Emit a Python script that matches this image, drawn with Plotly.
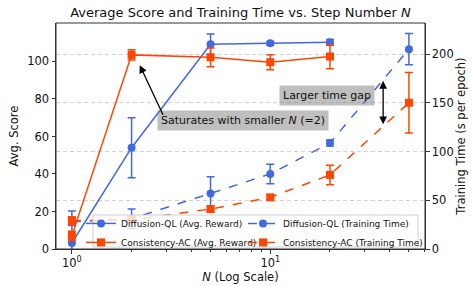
import math
import plotly.graph_objects as go

# ---- data ----
N_reward = [1, 2, 5, 10, 20]
dq_reward = [3.2, 54, 109.2, 109.7, 110.2]
dq_reward_err = [17, 16, 5.5, 1, 1.5]
cac_reward = [7, 103.5, 102.2, 99.6, 102.6]
cac_reward_err = [2.5, 2.7, 5, 4, 6.5]

N_time = [1, 2, 5, 10, 20, 50]
dq_time = [28, 31, 57, 77, 108.7, 205]
dq_time_err = [4, 10, 17, 10, 3, 16]
cac_time = [29, 30, 41, 53, 76, 150]
cac_time_err = [4, 3, 3, 2.5, 10, 31]

left_ticks = [0, 20, 40, 60, 80, 100]
right_ticks = [0, 50, 100, 150, 200]
x_major = [1, 10]
x_major_text = ["10<sup>0</sup>", "10<sup>1</sup>"]
x_minor = [2, 3, 4, 5, 6, 7, 8, 9, 20, 30, 40, 50, 60]

BLUE = "#4169E1"
RED = "#FF4500"
FONT = "DejaVu Sans"

fig = go.Figure()

def err(arr, color):
    return dict(type="data", array=arr, visible=True, color=color, thickness=1.5, width=4)

fig.add_trace(go.Scatter(x=N_reward, y=dq_reward, mode="lines+markers", name="Diffusion-QL (Avg. Reward)",
                         line=dict(color=BLUE, width=1.5), marker=dict(symbol="circle", size=8, color=BLUE),
                         error_y=err(dq_reward_err, BLUE), yaxis="y", legend="legend"))
fig.add_trace(go.Scatter(x=N_reward, y=cac_reward, mode="lines+markers", name="Consistency-AC (Avg. Reward)",
                         line=dict(color=RED, width=1.5), marker=dict(symbol="square", size=8, color=RED),
                         error_y=err(cac_reward_err, RED), yaxis="y", legend="legend"))
fig.add_trace(go.Scatter(x=N_time, y=dq_time, mode="lines+markers", name="Diffusion-QL (Training Time)",
                         line=dict(color=BLUE, width=1.5, dash="dash"), marker=dict(symbol="circle", size=8, color=BLUE),
                         error_y=err(dq_time_err, BLUE), yaxis="y2", legend="legend2"))
fig.add_trace(go.Scatter(x=N_time, y=cac_time, mode="lines+markers", name="Consistency-AC (Training Time)",
                         line=dict(color=RED, width=1.5, dash="dash"), marker=dict(symbol="square", size=8, color=RED),
                         error_y=err(cac_time_err, RED), yaxis="y2", legend="legend2"))

axis_common = dict(showline=True, linecolor="#333", linewidth=1, automargin=False,
                   ticks="outside", ticklen=3.5, tickcolor="#333", tickfont=dict(size=11.5, color="#111"),
                   zeroline=False)

fig.update_layout(
    width=472, height=286,
    margin=dict(l=56, r=47, t=23, b=37),
    paper_bgcolor="white", plot_bgcolor="white",
    font=dict(family=FONT, size=11.5, color="#111"),
    title=dict(text="Average Score and Training Time vs. Step Number <i>N</i>", x=0.5, xref="paper",
               y=1 - 12 / 286, yref="container", yanchor="middle", xanchor="center",
               font=dict(size=13, family=FONT, color="#111")),
    xaxis=dict(type="log", range=[-0.08, 1.78], tickvals=x_major, ticktext=x_major_text,
               title=dict(text="<i>N</i> (Log Scale)", standoff=3, font=dict(size=11.5)),
               showgrid=False,
               minor=dict(tickvals=x_minor, ticks="outside", ticklen=2, tickcolor="#333", showgrid=False),
               **axis_common),
    yaxis=dict(range=[0, 120.5], tickvals=left_ticks, showgrid=False,
               title=dict(text="Avg. Score", standoff=6, font=dict(size=11.5)),
               **axis_common),
    yaxis2=dict(range=[0, 231.8], tickvals=right_ticks, overlaying="y", side="right",
                showgrid=True, gridcolor="#d2d2d2", griddash="4px,3px", gridwidth=0.8,
                title=dict(text="Training Time (s per epoch)", standoff=4, font=dict(size=11.5)),
                **axis_common),
    legend=dict(x=(81 - 56) / 369, y=-0.035, xanchor="left", yanchor="bottom", bgcolor="rgba(0,0,0,0)",
                font=dict(size=9, family=FONT), tracegroupgap=0, itemwidth=30),
    legend2=dict(x=(243 - 56) / 369, y=-0.035, xanchor="left", yanchor="bottom", bgcolor="rgba(0,0,0,0)",
                 font=dict(size=9, family=FONT), tracegroupgap=0, itemwidth=30),
    showlegend=True,
)

# legend frame
fig.add_shape(type="rect", xref="paper", yref="paper", x0=(93 - 56) / 369, x1=(418 - 56) / 369,
              y0=(249 - 247) / 226, y1=(249 - 215) / 226, layer="above",
              line=dict(color="#d0d0d0", width=1), fillcolor="rgba(255,255,255,0.8)")
# full spine box
fig.add_shape(type="rect", xref="paper", yref="paper", x0=0, x1=1, y0=0, y1=1, layer="above",
              line=dict(color="#333", width=1), fillcolor="rgba(0,0,0,0)")

GRAYBOX = "rgba(128,128,128,0.5)"
# annotation 1
fig.add_annotation(x=0.864, y=68.3, xref="x", yref="y",
                   text="Saturates with smaller <i>N</i> (=2)", showarrow=False,
                   bgcolor=GRAYBOX, borderpad=3, font=dict(size=11, family=FONT, color="#111"))
fig.add_annotation(x=0.342, y=98, xref="x", yref="y", text="", showarrow=True,
                   ax=24, ay=51, axref="pixel", ayref="pixel",
                   arrowhead=2, arrowsize=1.2, arrowwidth=1.3, arrowcolor="black")
# annotation 2
fig.add_annotation(x=1.286, y=157, xref="x", yref="y2", text="Larger time gap", showarrow=False,
                   bgcolor=GRAYBOX, borderpad=3, font=dict(size=11, family=FONT, color="#111"))
fig.add_annotation(x=1.569, y=128, xref="x", yref="y2", text="", showarrow=True,
                   ax=1.569, ay=174, axref="x", ayref="y2", arrowside="end+start",
                   arrowhead=2, startarrowhead=2, arrowsize=1.2, arrowwidth=1.3, arrowcolor="black")

fig.write_html("out.html", config={"displayModeBar": False},
               post_script="document.body.style.margin='0px';document.body.style.overflow='hidden';")
